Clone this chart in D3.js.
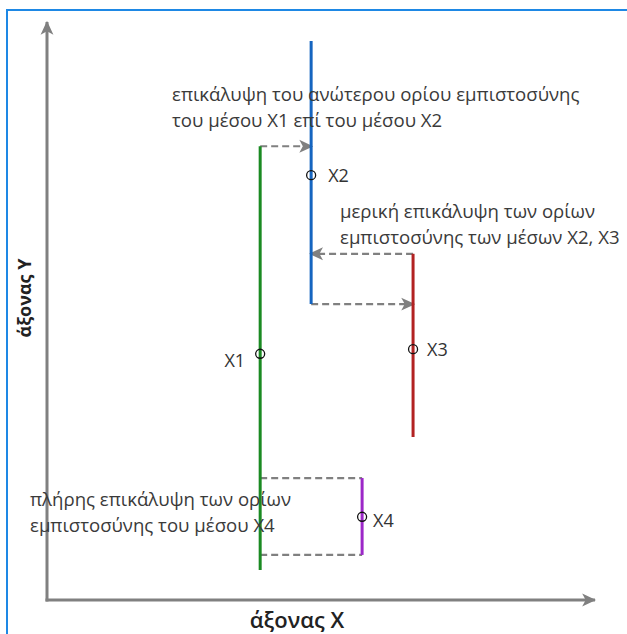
<!DOCTYPE html>
<html><head><meta charset="utf-8">
<script src="https://cdn.jsdelivr.net/npm/d3@7"></script>
<style>
body{margin:0;background:#fff;}
text{font-family:"Open Sans",sans-serif;}
</style></head>
<body><svg id="c" width="627" height="634"></svg>
<script>
// ---- data ----
const means = ["X1","X2","X3","X4"];
const xPos  = [38.9, 48.2, 66.8, 57.5];
const meanV = [42.6, 73.5, 43.4, 14.4];
const lowV  = [5.2, 51.2, 28.2, 7.8];
const highV = [78.5, 96.7, 59.9, 21.1];
const colors = ["#1a8a22","#1565c0","#b22222","#9c27c8"];
const labelSide = ["left","right","right","right"];
const xAxisLabel = "άξονας X";
const yAxisLabel = "άξονας Y";
const notes = [
  ["επικάλυψη του ανώτερου ορίου εμπιστοσύνης","του μέσου X1 επί του μέσου X2"],
  ["μερική επικάλυψη των ορίων","εμπιστοσύνης των μέσων X2, X3"],
  ["πλήρης επικάλυψη των ορίων","εμπιστοσύνης του μέσου X4"]
];

// ---- layout (pixel offsets, not data) ----
const noteAnchor = [[172,101],[340,218],[30,506]];
const labelDx = [-15, 17, 14, 11];
const labelDy = [13, 7, 7, 10];

const svg = d3.select("#c");
const x = d3.scaleLinear().domain([0,100]).range([47,595]);
const y = d3.scaleLinear().domain([0,100]).range([600,22]);
const grey = "#808080";

svg.append("rect").attr("x",7).attr("y",10).attr("width",700).attr("height",700)
  .attr("fill","none").attr("stroke","#1e88e5").attr("stroke-width",2);

const defs = svg.append("defs");
function arrow(id,size){
  defs.append("marker").attr("id",id).attr("viewBox","0 -6 12 12")
    .attr("refX",11).attr("refY",0).attr("markerWidth",size).attr("markerHeight",size)
    .attr("markerUnits","userSpaceOnUse").attr("orient","auto")
    .append("path").attr("d","M0,-5.5 L12,0 L0,5.5 L3,0 Z").attr("fill",grey);
}
arrow("ah",14);
arrow("ahs",14);

// axes (no ticks)
const gx = svg.append("g").attr("transform",`translate(0,${y(0)})`)
  .call(d3.axisBottom(x).tickValues([]).tickSizeOuter(0));
const gy = svg.append("g").attr("transform",`translate(${x(0)},0)`)
  .call(d3.axisLeft(y).tickValues([]).tickSizeOuter(0));
[gx,gy].forEach(g=>g.select(".domain").attr("stroke",grey).attr("stroke-width",3)
   .attr("marker-end","url(#ah)"));
gx.select(".domain").attr("d",`M${x(0)-1.5},0H${x(100)}`);
gy.select(".domain").attr("d",`M0,${y(0)+1.5}V${y(100)}`);

svg.append("text").attr("x",297).attr("y",628).attr("text-anchor","middle")
  .attr("font-size",22).attr("font-weight",600).attr("fill","#222").text(xAxisLabel);
svg.append("text").attr("transform",`translate(31,298) rotate(-90)`)
  .attr("text-anchor","middle").attr("font-size",18).attr("font-weight","bold")
  .attr("fill","#222").text(yAxisLabel);

// dashed connectors
const dashes = [
  {x1:xPos[0], x2:xPos[1], y:highV[0], arrow:true},
  {x1:xPos[2], x2:xPos[1], y:highV[2], arrow:true},
  {x1:xPos[1], x2:xPos[2], y:lowV[1], arrow:true},
  {x1:xPos[0], x2:xPos[3], y:highV[3], arrow:false},
  {x1:xPos[0], x2:xPos[3], y:lowV[3], arrow:false}
];
svg.selectAll("line.dash").data(dashes).join("line").attr("class","dash")
  .attr("x1",d=>x(d.x1)).attr("x2",d=>x(d.x2)+(d.arrow?(d.x2>d.x1?1:-1):0))
  .attr("y1",d=>y(d.y)).attr("y2",d=>y(d.y))
  .attr("stroke",grey).attr("stroke-width",2.2).attr("stroke-dasharray","7,4")
  .attr("marker-end",d=>d.arrow?"url(#ahs)":null);

// intervals
const data = means.map((m,i)=>({m,i,x:xPos[i],mean:meanV[i],lo:lowV[i],hi:highV[i],c:colors[i],side:labelSide[i]}));
svg.selectAll("line.ci").data(data).join("line").attr("class","ci")
  .attr("x1",d=>x(d.x)).attr("x2",d=>x(d.x)).attr("y1",d=>y(d.lo)).attr("y2",d=>y(d.hi))
  .attr("stroke",d=>d.c).attr("stroke-width",3);
svg.selectAll("circle.mean").data(data).join("circle").attr("class","mean")
  .attr("cx",d=>x(d.x)).attr("cy",d=>y(d.mean)).attr("r",4.5)
  .attr("fill","none").attr("stroke","#111").attr("stroke-width",1.3);
svg.selectAll("text.lab").data(data).join("text").attr("class","lab")
  .attr("x",d=>x(d.x)+labelDx[d.i])
  .attr("y",d=>y(d.mean)+labelDy[d.i])
  .attr("text-anchor",d=>d.side==="left"?"end":"start")
  .attr("font-size",18).attr("fill","#333").text(d=>d.m);

// notes
notes.forEach((lines,i)=>{
  const t = svg.append("text").attr("x",noteAnchor[i][0]).attr("y",noteAnchor[i][1])
    .attr("font-size",18.6).attr("fill","#3a3a3a");
  lines.forEach((l,j)=>t.append("tspan").attr("x",noteAnchor[i][0]).attr("dy",j?25.5:0).text(l));
});
</script></body></html>
